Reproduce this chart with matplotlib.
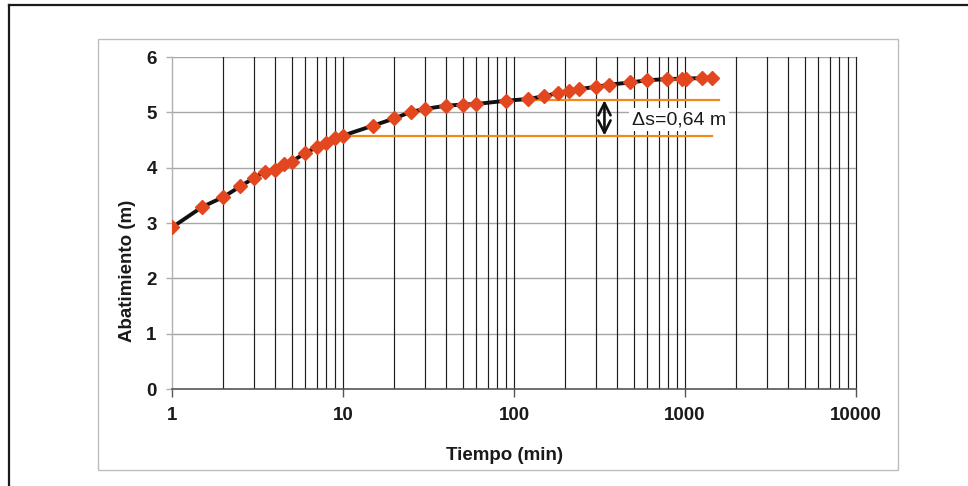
import matplotlib
matplotlib.use("Agg")
import matplotlib.pyplot as plt
from matplotlib.ticker import LogLocator, FixedLocator, NullFormatter
from matplotlib.patches import Rectangle
from matplotlib.lines import Line2D

plt.rcParams['font.family'] = ['Liberation Sans', 'DejaVu Sans']

# Data
tiempo = [1, 1.5, 2, 2.5, 3, 3.5, 4, 4.5, 5, 6, 7, 8, 9, 10, 15, 20, 25, 30, 40,
          50, 60, 90, 120, 150, 180, 210, 240, 300, 360, 480, 600, 780, 960,
          1020, 1260, 1440]
abatimiento = [2.92, 3.29, 3.47, 3.66, 3.81, 3.93, 3.96, 4.06, 4.11, 4.26, 4.37,
               4.44, 4.54, 4.58, 4.76, 4.89, 5.01, 5.06, 5.12, 5.14, 5.15, 5.21,
               5.24, 5.29, 5.35, 5.39, 5.42, 5.46, 5.50, 5.54, 5.58, 5.60, 5.61,
               5.61, 5.62, 5.62]
upper_x = [90, 1580]
upper_y = [5.22, 5.22]
lower_x = [10, 1440]
lower_y = [4.58, 4.58]
arrow_x = 338
delta_label = "\u0394s=0,64 m"
label_pos = (490, 4.87)
xticks = [1, 10, 100, 1000, 10000]
xticklabels = ["1", "10", "100", "1000", "10000"]
yticks = [0, 1, 2, 3, 4, 5, 6]

W, H = 968, 486
fig = plt.figure(figsize=(W / 100, H / 100), dpi=100)
fig.patch.set_facecolor('white')

# outer frame (left & top)
fig.add_artist(Line2D([8.5 / W, 8.5 / W], [0, 1 - 5 / H], color='#1a1a1a', lw=1.6,
                      transform=fig.transFigure))
fig.add_artist(Line2D([8.5 / W, 1], [1 - 5.5 / H, 1 - 5.5 / H], color='#1a1a1a', lw=1.6,
                      transform=fig.transFigure))
# chart area box
fig.add_artist(Rectangle((98 / W, 1 - 470 / H), (898 - 98) / W, (470 - 39) / H,
                         transform=fig.transFigure, fill=False, edgecolor='#bdbdbd', lw=1.0))

ax = fig.add_axes([172 / W, 1 - 389 / H, (856 - 172) / W, (389 - 57) / H])
ax.set_xscale('log')
ax.set_xlim(1, 10000)
ax.set_ylim(0, 6)

ax.xaxis.set_major_locator(FixedLocator(xticks))
ax.xaxis.set_minor_locator(LogLocator(base=10, subs=range(2, 10), numticks=20))
ax.xaxis.set_minor_formatter(NullFormatter())
ax.set_xticks(xticks)
ax.set_xticklabels(xticklabels)
ax.set_yticks(yticks)

# gridlines
for v in ax.xaxis.get_minorticklocs():
    if 1 < v < 10000:
        ax.axvline(v, color='#1e1e1e', lw=0.85, zorder=1)
for v in xticks[1:]:
    ax.axvline(v, color='#1e1e1e', lw=0.85, zorder=1, clip_on=False)
for v in yticks[1:]:
    ax.axhline(v, color='#a6a6a6', lw=1.0, zorder=0.9)

for sp in ['top', 'right']:
    ax.spines[sp].set_visible(False)
ax.spines['left'].set_color('#b0b0b0')
ax.spines['left'].set_linewidth(1.0)
ax.spines['bottom'].set_color('#555555')
ax.spines['bottom'].set_linewidth(1.2)

ax.tick_params(axis='x', which='major', direction='out', length=6, width=1.0,
               color='#555555', pad=7, labelsize=13.5)
ax.tick_params(axis='x', which='minor', length=0)
ax.tick_params(axis='y', which='major', direction='out', length=4, width=1.0,
               color='#b0b0b0', pad=7, labelsize=13.5)
for lab in ax.get_xticklabels() + ax.get_yticklabels():
    lab.set_fontweight('bold')
    lab.set_color('#1a1a1a')

# orange reference lines
ax.plot(upper_x, upper_y, color='#f0891e', lw=1.6, zorder=3)
ax.plot(lower_x, lower_y, color='#f0891e', lw=1.6, zorder=3)

# data
ax.plot(tiempo, abatimiento, color='#111111', lw=2.8, zorder=4,
        marker='D', markersize=7.3, markerfacecolor='#e2471f', markeredgecolor='#e2471f')

# arrow
ax.annotate('', xy=(arrow_x, lower_y[0]), xytext=(arrow_x, upper_y[0]),
            arrowprops=dict(arrowstyle='<->', lw=1.9, color='#111111',
                            shrinkA=0, shrinkB=0, mutation_scale=22), zorder=5)
ax.text(label_pos[0], label_pos[1], delta_label, ha='left', va='center', fontsize=14,
        color='#1a1a1a', zorder=5,
        bbox=dict(facecolor='white', edgecolor='none', pad=2))

fig.text(127 / W, 1 - 271 / H, 'Abatimiento (m)', rotation=90, ha='center', va='center',
         fontsize=13.5, fontweight='bold', color='#1a1a1a')
fig.text(505 / W, 1 - 456 / H, 'Tiempo (min)', ha='center', va='center',
         fontsize=13.5, fontweight='bold', color='#1a1a1a')

fig.savefig('out.png', dpi=100)
